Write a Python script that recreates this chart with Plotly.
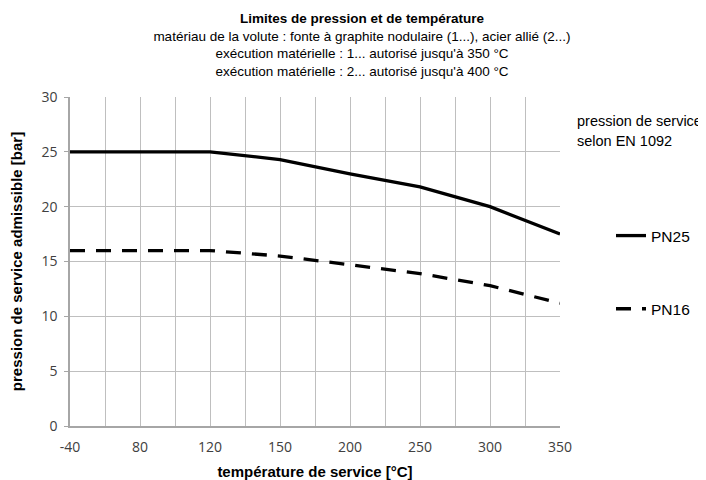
import plotly.graph_objects as go

# Data
temp_ticks = ["-40", "80", "120", "150", "200", "250", "300", "350"]
pn25 = [25, 25, 25, 24.3, 23, 21.8, 20, 17.5]
pn16 = [16, 16, 16, 15.5, 14.7, 13.9, 12.8, 11.2]
series_names = ["PN25", "PN16"]

# category positions (labels on every second category line)
xpos = [2 * i for i in range(len(temp_ticks))]

# the page body adds an 8px offset; build the figure in page coordinates
OFF = 8
W, H = 706 - OFF, 480 - OFF
L, T = 70 - OFF, 97 - OFF
R = W - (560 - OFF)
B = H - (426 - OFF)
pw, ph = W - L - R, H - T - B

def px_x(p):  # page px -> paper x
    return (p - OFF - L) / pw

def px_y(p):  # page px -> paper y
    return (H + OFF - B - p) / ph

def cx(p):  # page px -> container x
    return (p - OFF) / W

def cy(p):  # page px -> container y
    return 1 - (p - OFF) / H

fig = go.Figure()
fig.add_trace(go.Scatter(
    x=xpos, y=pn25, mode="lines", name=series_names[0],
    line=dict(color="black", width=3.3), legendgroup="a"))
fig.add_trace(go.Scatter(
    x=xpos, y=pn16, mode="lines", name=series_names[1],
    line=dict(color="black", width=3.3, dash="15px,11px"), legendgroup="b"))

font_main = "Liberation Sans, Arial, sans-serif"
tick_font = dict(family="Open Sans, sans-serif", size=14, color="#404040")
gridc = "#bfbfbf"

fig.update_layout(
    width=W, height=H,
    margin=dict(l=L, r=R, t=T, b=B, pad=0, autoexpand=False),
    paper_bgcolor="white", plot_bgcolor="white",
    font=dict(family=font_main, size=13, color="black"),
    title=dict(
        text="<b>Limites de pression et de température</b><br>"
             "matériau de la volute : fonte à graphite nodulaire (1...), acier allié (2...)<br>"
             "exécution matérielle : 1... autorisé jusqu'à 350 °C<br>"
             "exécution matérielle : 2... autorisé jusqu'à 400 °C",
        x=cx(362), xanchor="center", xref="container",
        y=cy(23), yanchor="top", yref="container",
        font=dict(family=font_main, size=13.5, color="black")),
    xaxis=dict(
        range=[0, 14], tickmode="array", tickvals=xpos, ticktext=temp_ticks,
        showgrid=True, gridcolor=gridc, gridwidth=1.3,
        minor=dict(tickmode="linear", tick0=0, dtick=1, showgrid=True,
                   gridcolor=gridc, gridwidth=1.3),
        showline=True, linecolor="#a6a6a6", linewidth=1.5,
        ticks="", tickfont=tick_font, ticklabelstandoff=7,
        zeroline=False, fixedrange=True, automargin=False,
        title=dict(text="<b>température de service [°C]</b>",
                   font=dict(family=font_main, size=15, color="black"),
                   standoff=12)),
    yaxis=dict(
        range=[0, 30], dtick=5, tick0=0,
        showgrid=True, gridcolor=gridc, gridwidth=1.3,
        showline=True, linecolor="#a6a6a6", linewidth=1.5,
        ticks="outside", ticklen=4, tickcolor="#a6a6a6", tickwidth=1.3,
        tickfont=tick_font, ticklabelstandoff=4,
        zeroline=False, fixedrange=True, automargin=False,
        title=dict(text="<b>pression de service admissible [bar]</b>",
                   font=dict(family=font_main, size=15, color="black"),
                   standoff=16)),
    legend=dict(
        x=cx(611), y=cy(219), xref="container", yref="container",
        xanchor="left", yanchor="top",
        font=dict(family=font_main, size=15.5, color="black"),
        tracegroupgap=50, bgcolor="rgba(0,0,0,0)", borderwidth=0,
        itemclick=False, itemdoubleclick=False),
    showlegend=True,
)

fig.add_annotation(text="pression de service", x=px_x(575), y=px_y(121),
                   xref="paper", yref="paper", xanchor="left", yanchor="middle",
                   showarrow=False, font=dict(family=font_main, size=14.5, color="black"))
fig.add_annotation(text="selon EN 1092", x=px_x(575), y=px_y(141),
                   xref="paper", yref="paper", xanchor="left", yanchor="middle",
                   showarrow=False, font=dict(family=font_main, size=14.5, color="black"))

fig.write_html("out.html", config=dict(displayModeBar=False))
